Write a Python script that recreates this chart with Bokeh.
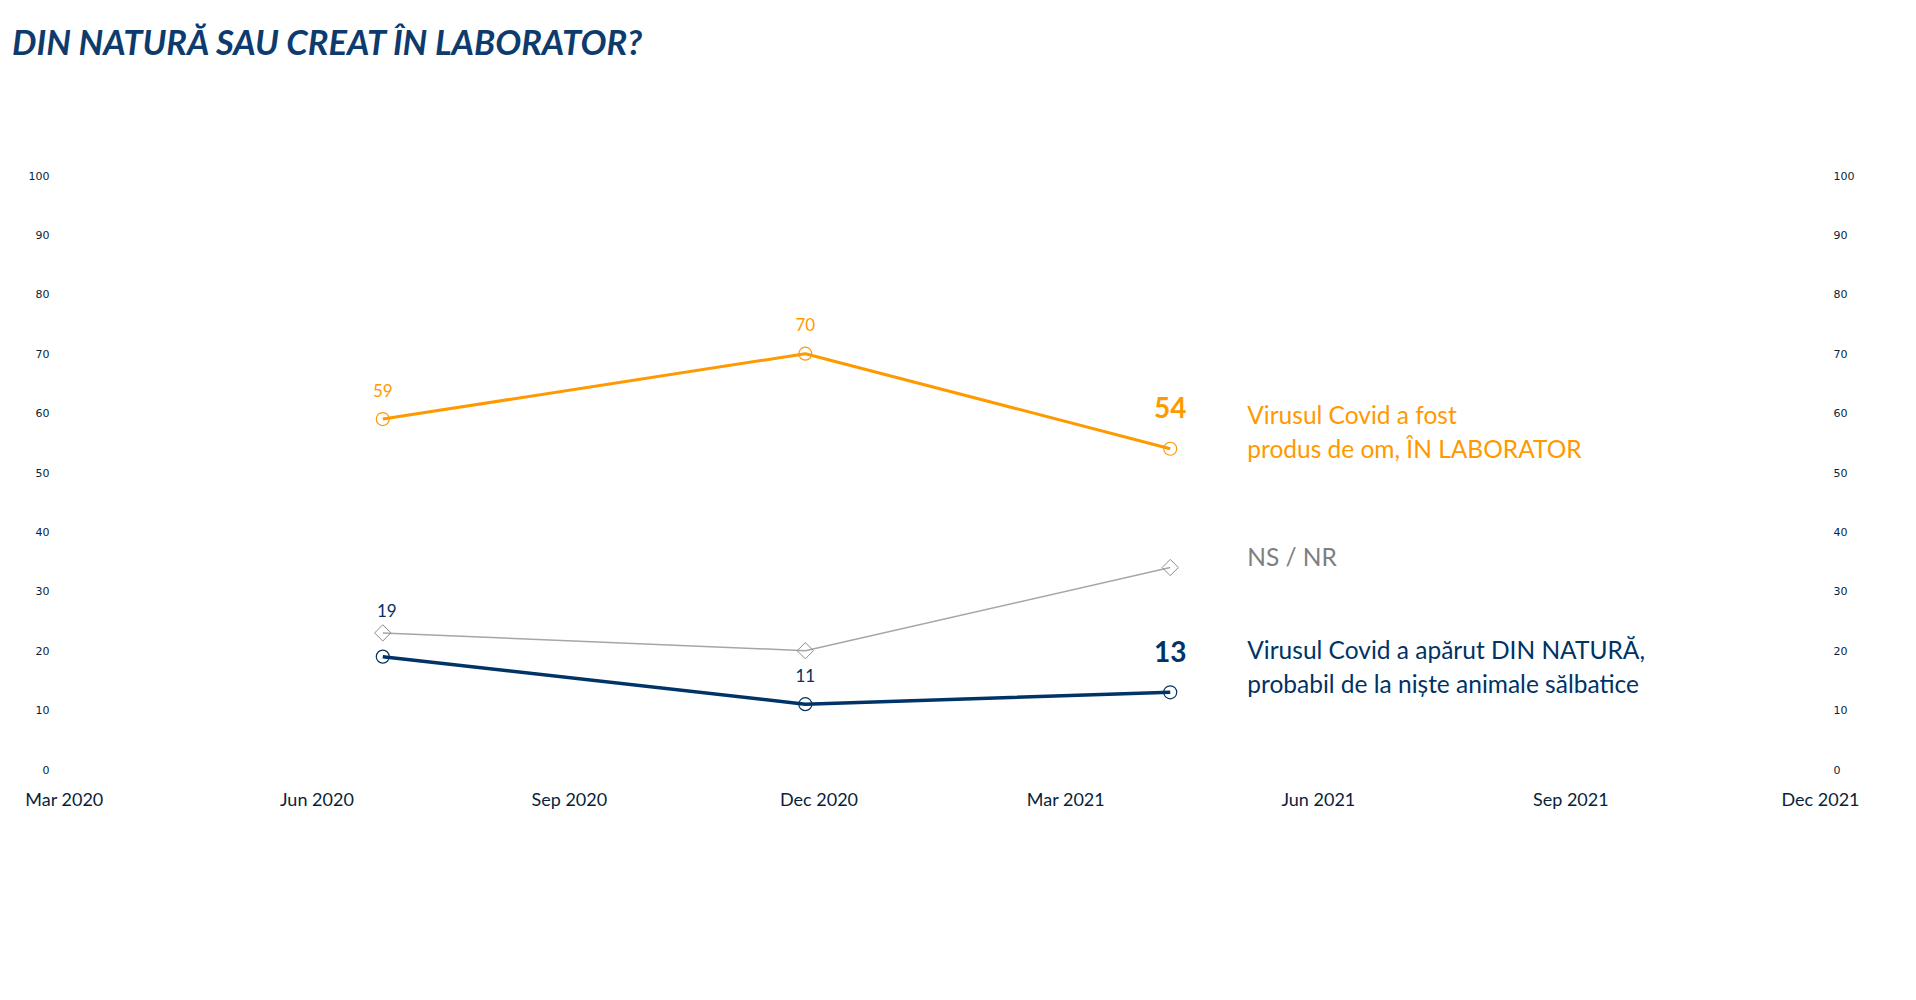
import math
import pandas as pd
from bokeh.plotting import figure
from bokeh.models import (Range1d, LinearAxis, FixedTicker, DatetimeTickFormatter,
                          ColumnDataSource, Div)
from bokeh.layouts import column
from bokeh.core.properties import value
from bokeh.embed import file_html
from bokeh.resources import INLINE

# ---------------- data ----------------
title_text = "DIN NATURĂ SAU CREAT ÎN LABORATOR?"
survey_dates = ["2020-06-25", "2020-11-26", "2021-04-08"]
laborator = [59, 70, 54]
natura = [19, 11, 13]
ns_nr = [23, 20, 34]
x_tick_dates = ["2020-03-01", "2020-06-01", "2020-09-01", "2020-12-01",
                "2021-03-01", "2021-06-01", "2021-09-01", "2021-12-01"]
y_ticks = [0, 10, 20, 30, 40, 50, 60, 70, 80, 90, 100]
lab_label = ["Virusul Covid a fost", "produs de om, ÎN LABORATOR"]
nat_label = ["Virusul Covid a apărut DIN NATURĂ,", "probabil de la niște animale sălbatice"]
ns_label = ["NS / NR"]

ORANGE = "#FF9900"
NAVY = "#003366"
GRAY_LINE = "#A6A6A6"
GRAY_MARK = "#8C8C8C"
GRAY_TEXT = "#7F7F7F"
AXIS_TXT = "#0b1f3a"
FONT = "Lato"

dates = pd.to_datetime(survey_dates)
x_ticks_ms = [pd.Timestamp(d).value / 1e6 for d in x_tick_dates]

p = figure(width=1900, height=891, x_axis_type="datetime",
           output_backend="svg", toolbar_location=None,
           x_range=Range1d(pd.Timestamp(x_tick_dates[0]), pd.Timestamp(x_tick_dates[-1])),
           y_range=Range1d(0, 100),
           min_border_left=64, min_border_right=80,
           min_border_top=97, min_border_bottom=200)
p.outline_line_color = None
p.xgrid.grid_line_color = None
p.ygrid.grid_line_color = None
p.background_fill_color = "white"
p.border_fill_color = "white"

# x axis
xa = p.xaxis[0]
xa.ticker = FixedTicker(ticks=x_ticks_ms)
xa.formatter = DatetimeTickFormatter(days="%b %Y", months="%b %Y", years="%b %Y")
xa.axis_line_color = None
xa.major_tick_line_color = None
xa.minor_tick_line_color = None
xa.major_label_text_font = FONT
xa.major_label_text_font_size = "18px"
xa.major_label_text_color = AXIS_TXT
xa.major_label_standoff = 12

# y axes
def style_y(ax, standoff):
    ax.ticker = FixedTicker(ticks=y_ticks)
    ax.axis_line_color = None
    ax.major_tick_line_color = None
    ax.minor_tick_line_color = None
    ax.major_label_text_font = "DejaVu Sans"
    ax.major_label_text_font_size = "11px"
    ax.major_label_text_color = AXIS_TXT
    ax.major_label_standoff = standoff

style_y(p.yaxis[0], 9)
ry = LinearAxis()
p.add_layout(ry, "right")
style_y(ry, 7)

src = ColumnDataSource(dict(x=dates, lab=laborator, nat=natura, ns=ns_nr))

# lines
p.line("x", "ns", source=src, color=GRAY_LINE, line_width=1.5)
p.line("x", "lab", source=src, color=ORANGE, line_width=3)
p.line("x", "nat", source=src, color=NAVY, line_width=3.5)

# markers
p.scatter("x", "ns", source=src, marker="square", size=11.5, angle=math.pi / 4,
          fill_alpha=0, line_color=GRAY_MARK, line_width=1)
p.scatter("x", "lab", source=src, marker="circle", size=13, fill_alpha=0,
          line_color=ORANGE, line_width=1.2)
p.scatter("x", "nat", source=src, marker="circle", size=13, fill_alpha=0,
          line_color=NAVY, line_width=1.2)

# value labels (first two points: small; last point: large bold)
small_lab = ColumnDataSource(dict(x=dates[:-1], y=laborator[:-1], t=[str(v) for v in laborator[:-1]]))
p.text("x", "y", text="t", source=small_lab, text_align="center", text_baseline="middle",
       y_offset=-29, text_font=value(FONT), text_font_size="17px", text_color=ORANGE)
small_nat = ColumnDataSource(dict(x=dates[:-1], y=natura[:-1], t=[str(v) for v in natura[:-1]],
                                  xo=[4, 0], yo=[-46, -29]))
p.text("x", "y", text="t", source=small_nat, text_align="center", text_baseline="middle",
       x_offset="xo", y_offset="yo", text_font=value(FONT), text_font_size="17px", text_color=NAVY)

big = ColumnDataSource(dict(x=[dates[-1]] * 2, y=[laborator[-1], natura[-1]],
                            t=[str(laborator[-1]), str(natura[-1])], c=[ORANGE, NAVY]))
p.text("x", "y", text="t", source=big, text_align="center", text_baseline="middle",
       y_offset=-41, text_font=value(FONT), text_font_size="28px", text_font_style="bold",
       text_color="c")

# series labels at the right end of each line
ser = ColumnDataSource(dict(
    x=[dates[-1]] * 5,
    y=[laborator[-1], laborator[-1], ns_nr[-1], natura[-1], natura[-1]],
    t=lab_label + ns_label + nat_label,
    c=[ORANGE, ORANGE, GRAY_TEXT, NAVY, NAVY],
    yo=[-34, 0, -11, -43, -9],
))
p.text("x", "y", text="t", source=ser, text_align="left", text_baseline="middle",
       x_offset=77, y_offset="yo", text_font=value(FONT), text_font_size="24.5px",
       text_color="c")

title = Div(text=title_text, width=1900, height=78, margin=(0, 0, 0, 0),
            styles={"font-family": FONT, "font-weight": "bold", "font-style": "italic",
                    "font-size": "34.5px", "color": "#0d3b6e", "padding-left": "12px",
                    "padding-top": "22px", "line-height": "40px", "white-space": "nowrap"})

layout = column(title, p, spacing=0)
open("out.html", "w").write(file_html(layout, INLINE))
